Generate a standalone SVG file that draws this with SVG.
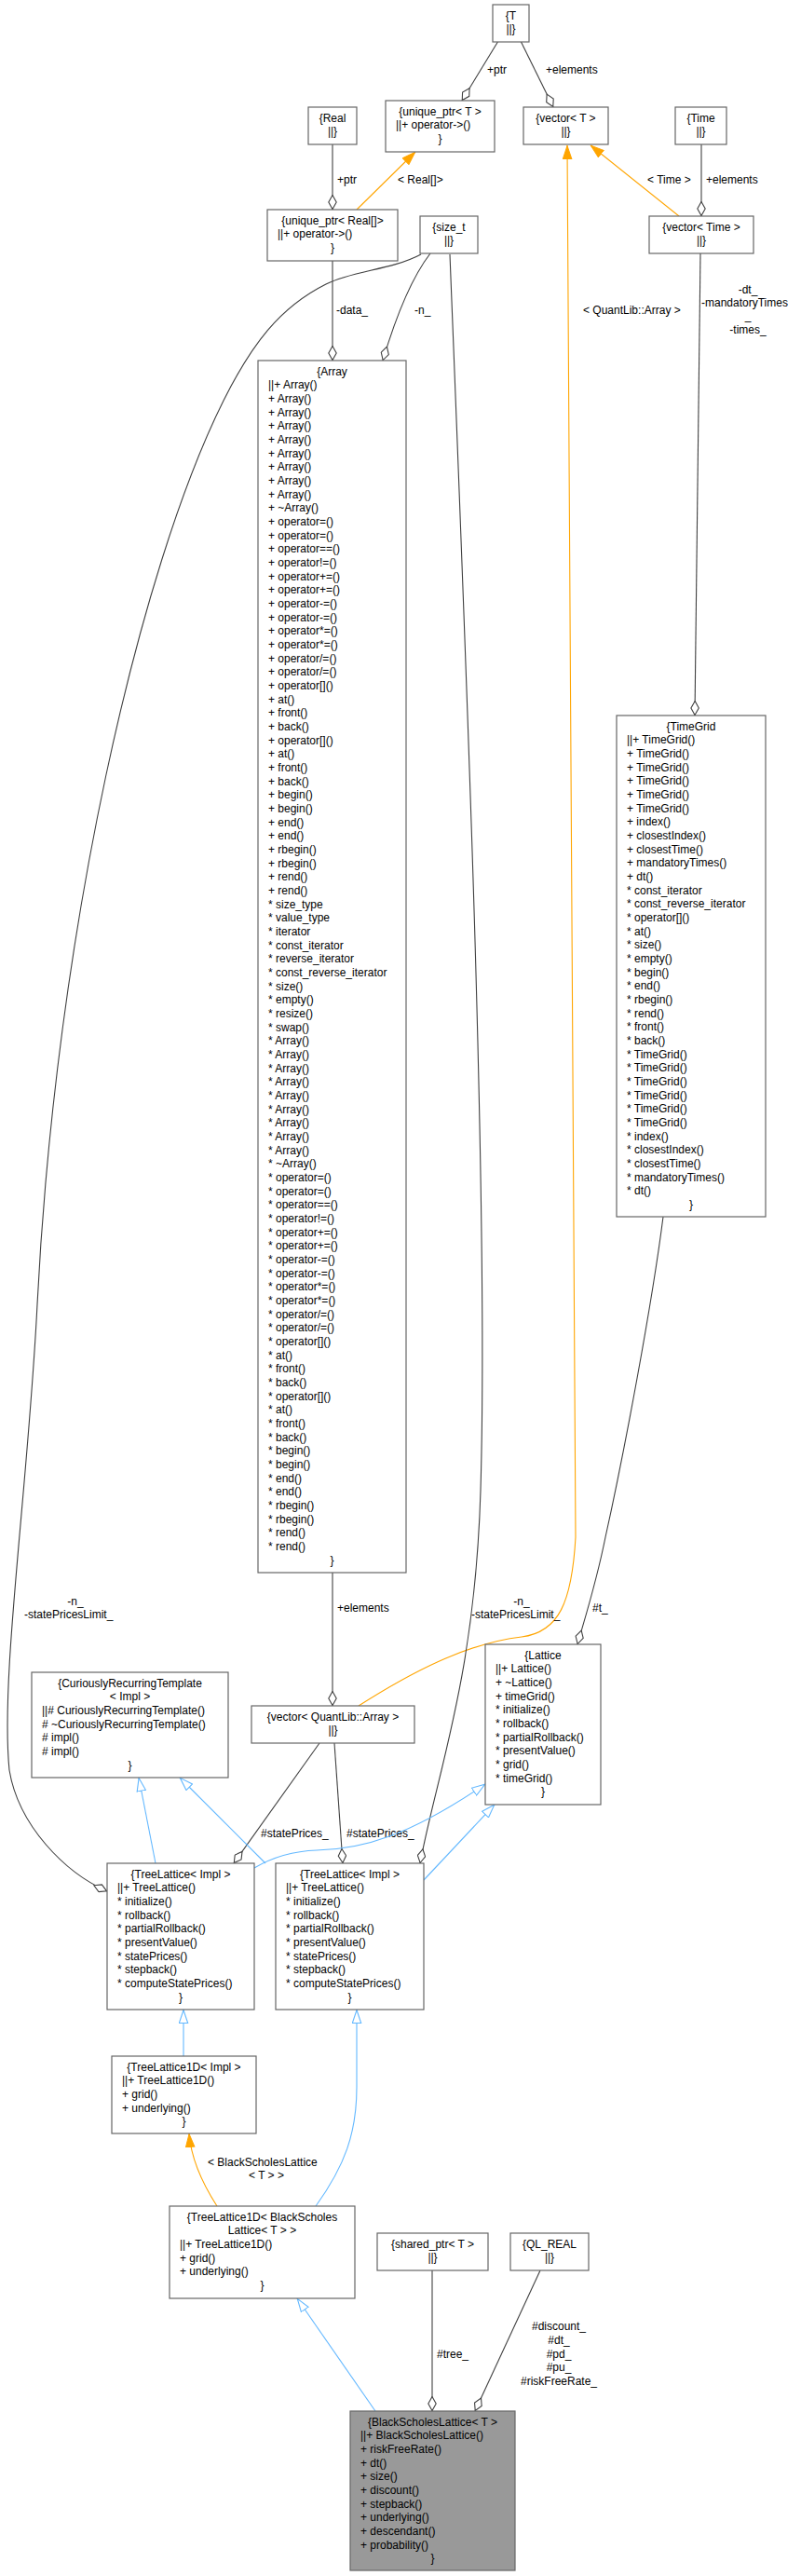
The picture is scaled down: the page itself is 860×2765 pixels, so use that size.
<svg xmlns="http://www.w3.org/2000/svg" width="860" height="2765" viewBox="0 0 860 2765">
<style>
.bg{fill:#ffffff}
.box{fill:#ffffff;stroke:#666666;stroke-width:1.2}
.hl{fill:#999999;stroke:#666666;stroke-width:1.2}
text{font-family:"Liberation Sans",Arial,sans-serif;font-size:12px;fill:#000000}
.c{text-anchor:middle}
.agg{fill:none;stroke:#404040;stroke-width:1.1;marker-end:url(#dia)}
.inh{fill:none;stroke:#63b8ff;stroke-width:1.1;marker-end:url(#tri)}
.tpl{fill:none;stroke:#ffa500;stroke-width:1.1;marker-end:url(#otri)}
</style>
<defs>
<marker id="dia" viewBox="0 0 16 10" refX="16" refY="5" markerWidth="16" markerHeight="10" orient="auto" markerUnits="userSpaceOnUse"><path d="M0.5,5 L8,0.8 L15.5,5 L8,9.2 Z" fill="#ffffff" stroke="#404040" stroke-width="1.1"/></marker>
<marker id="tri" viewBox="0 0 15 11" refX="15" refY="5.5" markerWidth="15" markerHeight="11" orient="auto" markerUnits="userSpaceOnUse"><path d="M0.5,0.8 L14.5,5.5 L0.5,10.2 Z" fill="#ffffff" stroke="#63b8ff" stroke-width="1.1"/></marker>
<marker id="otri" viewBox="0 0 15 11" refX="15" refY="5.5" markerWidth="15" markerHeight="11" orient="auto" markerUnits="userSpaceOnUse"><path d="M0.5,0.8 L14.5,5.5 L0.5,10.2 Z" fill="#ffa500" stroke="#ffa500" stroke-width="1"/></marker>
</defs>
<rect class="bg" x="0" y="0" width="860" height="2765"/>

<g id="connectors">
<path class="agg" d="M535,44 L496,108"/>
<text x="523" y="79">+ptr</text>
<path class="agg" d="M559,44 L594,115"/>
<text x="586" y="79">+elements</text>
<path class="agg" d="M357,155 L357,225"/>
<text x="362" y="197">+ptr</text>
<path class="tpl" d="M383,225 L446,163"/>
<text x="427" y="197">&lt; Real[]&gt;</text>
<path class="agg" d="M753,155 L753,232"/>
<text x="758" y="197">+elements</text>
<path class="tpl" d="M729,232 L634,156"/>
<text x="695" y="197">&lt; Time &gt;</text>
<path class="tpl" d="M385,1831 C440,1796 500,1764 560,1757 C600,1752 614,1720 618,1650 L609,156"/>
<text x="626" y="337">&lt; QuantLib::Array &gt;</text>
<path class="agg" d="M357,280 L357,387"/>
<text x="361" y="337">-data_</text>
<path class="agg" d="M462,272 C442,298 425,340 411,387"/>
<text x="445" y="337">-n_</text>
<path class="agg" d="M452,273 C420,290 380,290 350,305 C300,330 270,370 240,430 C150,610 60,1000 40,1400 C30,1600 0,1800 10,1900 C20,1960 70,2010 115,2030"/>
<text class="c" x="81" y="1723">-n_</text>
<text x="26" y="1737">-statePricesLimit_</text>
<path class="agg" d="M483,273 C500,700 525,1300 516,1600 C510,1800 470,1900 451,2000"/>
<text class="c" x="560" y="1723">-n_</text>
<text x="506" y="1737">-statePricesLimit_</text>
<path class="agg" d="M752,272 L746,768"/>
<text class="c" x="803" y="315">-dt_</text>
<text x="753" y="329">-mandatoryTimes</text>
<text class="c" x="803" y="343">_</text>
<text class="c" x="803" y="358">-times_</text>
<path class="agg" d="M712,1306 C700,1400 670,1560 650,1650 C640,1700 627,1740 620,1765"/>
<text x="636" y="1730">#t_</text>
<path class="agg" d="M357,1688 L357,1831"/>
<text x="362" y="1730">+elements</text>
<path class="agg" d="M343,1871 L251,2000"/>
<text x="280" y="1972">#statePrices_</text>
<path class="agg" d="M359,1871 L368,2000"/>
<text x="372" y="1972">#statePrices_</text>
<path class="inh" d="M167,2000 L149,1908"/>
<path class="inh" d="M285,2000 L193,1908"/>
<path class="inh" d="M273,2005 C290,1995 310,1987 340,1986 C390,1985 440,1970 521,1915"/>
<path class="inh" d="M455,2018 L531,1937"/>
<path class="inh" d="M197,2207 L197,2157"/>
<path class="inh" d="M339,2368 C370,2325 383,2290 383,2240 L383,2157"/>
<path class="tpl" d="M233,2368 C215,2340 205,2315 203,2290"/>
<text x="223" y="2325">&lt; BlackScholesLattice</text>
<text class="c" x="286" y="2339">&lt; T &gt; &gt;</text>
<path class="inh" d="M403,2588 L319,2467"/>
<path class="agg" d="M464,2437 L464,2588"/>
<text x="469" y="2531">#tree_</text>
<path class="agg" d="M580,2437 L510,2588"/>
<text class="c" x="600" y="2501">#discount_</text>
<text class="c" x="600" y="2516">#dt_</text>
<text class="c" x="600" y="2531">#pd_</text>
<text class="c" x="600" y="2545">#pu_</text>
<text class="c" x="600" y="2560">#riskFreeRate_</text>
</g>

<g id="node_T"><rect class="box" x="529" y="5" width="39" height="40"/>
<text class="c" x="548.5" y="20.5">{T<tspan x="548.5" dy="14.67">||}</tspan></text></g>

<g id="node_unique_ptr_T"><rect class="box" x="414" y="108" width="117" height="55"/>
<text x="425" y="123.5"><tspan class="c" x="472.5">{unique_ptr&lt; T &gt;</tspan><tspan x="425" dy="14.67">||+ operator-&gt;()</tspan><tspan class="c" x="472.5" dy="14.67">}</tspan></text></g>

<g id="node_Real"><rect class="box" x="331" y="115" width="52" height="40"/>
<text class="c" x="357" y="130.5">{Real<tspan x="357" dy="14.67">||}</tspan></text></g>

<g id="node_vector_T"><rect class="box" x="562" y="115" width="91" height="40"/>
<text class="c" x="607.5" y="130.5">{vector&lt; T &gt;<tspan x="607.5" dy="14.67">||}</tspan></text></g>

<g id="node_Time"><rect class="box" x="725" y="115" width="55" height="40"/>
<text class="c" x="752.5" y="130.5">{Time<tspan x="752.5" dy="14.67">||}</tspan></text></g>

<g id="node_unique_ptr_Real"><rect class="box" x="287" y="225" width="140" height="55"/>
<text x="298" y="240.5"><tspan class="c" x="357">{unique_ptr&lt; Real[]&gt;</tspan><tspan x="298" dy="14.67">||+ operator-&gt;()</tspan><tspan class="c" x="357" dy="14.67">}</tspan></text></g>

<g id="node_size_t"><rect class="box" x="451" y="232" width="62" height="40"/>
<text class="c" x="482" y="247.5">{size_t<tspan x="482" dy="14.67">||}</tspan></text></g>

<g id="node_vector_Time"><rect class="box" x="697" y="232" width="112" height="40"/>
<text class="c" x="753" y="247.5">{vector&lt; Time &gt;<tspan x="753" dy="14.67">||}</tspan></text></g>

<g id="node_Array"><rect class="box" x="277" y="387" width="159" height="1301"/>
<text x="288" y="402.5"><tspan class="c" x="356.5">{Array</tspan><tspan x="288" dy="14.67">||+ Array()</tspan><tspan x="288" dy="14.67">+ Array()</tspan><tspan x="288" dy="14.67">+ Array()</tspan><tspan x="288" dy="14.67">+ Array()</tspan><tspan x="288" dy="14.67">+ Array()</tspan><tspan x="288" dy="14.67">+ Array()</tspan><tspan x="288" dy="14.67">+ Array()</tspan><tspan x="288" dy="14.67">+ Array()</tspan><tspan x="288" dy="14.67">+ Array()</tspan><tspan x="288" dy="14.67">+ ~Array()</tspan><tspan x="288" dy="14.67">+ operator=()</tspan><tspan x="288" dy="14.67">+ operator=()</tspan><tspan x="288" dy="14.67">+ operator==()</tspan><tspan x="288" dy="14.67">+ operator!=()</tspan><tspan x="288" dy="14.67">+ operator+=()</tspan><tspan x="288" dy="14.67">+ operator+=()</tspan><tspan x="288" dy="14.67">+ operator-=()</tspan><tspan x="288" dy="14.67">+ operator-=()</tspan><tspan x="288" dy="14.67">+ operator*=()</tspan><tspan x="288" dy="14.67">+ operator*=()</tspan><tspan x="288" dy="14.67">+ operator/=()</tspan><tspan x="288" dy="14.67">+ operator/=()</tspan><tspan x="288" dy="14.67">+ operator[]()</tspan><tspan x="288" dy="14.67">+ at()</tspan><tspan x="288" dy="14.67">+ front()</tspan><tspan x="288" dy="14.67">+ back()</tspan><tspan x="288" dy="14.67">+ operator[]()</tspan><tspan x="288" dy="14.67">+ at()</tspan><tspan x="288" dy="14.67">+ front()</tspan><tspan x="288" dy="14.67">+ back()</tspan><tspan x="288" dy="14.67">+ begin()</tspan><tspan x="288" dy="14.67">+ begin()</tspan><tspan x="288" dy="14.67">+ end()</tspan><tspan x="288" dy="14.67">+ end()</tspan><tspan x="288" dy="14.67">+ rbegin()</tspan><tspan x="288" dy="14.67">+ rbegin()</tspan><tspan x="288" dy="14.67">+ rend()</tspan><tspan x="288" dy="14.67">+ rend()</tspan><tspan x="288" dy="14.67">* size_type</tspan><tspan x="288" dy="14.67">* value_type</tspan><tspan x="288" dy="14.67">* iterator</tspan><tspan x="288" dy="14.67">* const_iterator</tspan><tspan x="288" dy="14.67">* reverse_iterator</tspan><tspan x="288" dy="14.67">* const_reverse_iterator</tspan><tspan x="288" dy="14.67">* size()</tspan><tspan x="288" dy="14.67">* empty()</tspan><tspan x="288" dy="14.67">* resize()</tspan><tspan x="288" dy="14.67">* swap()</tspan><tspan x="288" dy="14.67">* Array()</tspan><tspan x="288" dy="14.67">* Array()</tspan><tspan x="288" dy="14.67">* Array()</tspan><tspan x="288" dy="14.67">* Array()</tspan><tspan x="288" dy="14.67">* Array()</tspan><tspan x="288" dy="14.67">* Array()</tspan><tspan x="288" dy="14.67">* Array()</tspan><tspan x="288" dy="14.67">* Array()</tspan><tspan x="288" dy="14.67">* Array()</tspan><tspan x="288" dy="14.67">* ~Array()</tspan><tspan x="288" dy="14.67">* operator=()</tspan><tspan x="288" dy="14.67">* operator=()</tspan><tspan x="288" dy="14.67">* operator==()</tspan><tspan x="288" dy="14.67">* operator!=()</tspan><tspan x="288" dy="14.67">* operator+=()</tspan><tspan x="288" dy="14.67">* operator+=()</tspan><tspan x="288" dy="14.67">* operator-=()</tspan><tspan x="288" dy="14.67">* operator-=()</tspan><tspan x="288" dy="14.67">* operator*=()</tspan><tspan x="288" dy="14.67">* operator*=()</tspan><tspan x="288" dy="14.67">* operator/=()</tspan><tspan x="288" dy="14.67">* operator/=()</tspan><tspan x="288" dy="14.67">* operator[]()</tspan><tspan x="288" dy="14.67">* at()</tspan><tspan x="288" dy="14.67">* front()</tspan><tspan x="288" dy="14.67">* back()</tspan><tspan x="288" dy="14.67">* operator[]()</tspan><tspan x="288" dy="14.67">* at()</tspan><tspan x="288" dy="14.67">* front()</tspan><tspan x="288" dy="14.67">* back()</tspan><tspan x="288" dy="14.67">* begin()</tspan><tspan x="288" dy="14.67">* begin()</tspan><tspan x="288" dy="14.67">* end()</tspan><tspan x="288" dy="14.67">* end()</tspan><tspan x="288" dy="14.67">* rbegin()</tspan><tspan x="288" dy="14.67">* rbegin()</tspan><tspan x="288" dy="14.67">* rend()</tspan><tspan x="288" dy="14.67">* rend()</tspan><tspan class="c" x="356.5" dy="14.67">}</tspan></text></g>

<g id="node_TimeGrid"><rect class="box" x="662" y="768" width="160" height="538"/>
<text x="673" y="783.5"><tspan class="c" x="742">{TimeGrid</tspan><tspan x="673" dy="14.67">||+ TimeGrid()</tspan><tspan x="673" dy="14.67">+ TimeGrid()</tspan><tspan x="673" dy="14.67">+ TimeGrid()</tspan><tspan x="673" dy="14.67">+ TimeGrid()</tspan><tspan x="673" dy="14.67">+ TimeGrid()</tspan><tspan x="673" dy="14.67">+ TimeGrid()</tspan><tspan x="673" dy="14.67">+ index()</tspan><tspan x="673" dy="14.67">+ closestIndex()</tspan><tspan x="673" dy="14.67">+ closestTime()</tspan><tspan x="673" dy="14.67">+ mandatoryTimes()</tspan><tspan x="673" dy="14.67">+ dt()</tspan><tspan x="673" dy="14.67">* const_iterator</tspan><tspan x="673" dy="14.67">* const_reverse_iterator</tspan><tspan x="673" dy="14.67">* operator[]()</tspan><tspan x="673" dy="14.67">* at()</tspan><tspan x="673" dy="14.67">* size()</tspan><tspan x="673" dy="14.67">* empty()</tspan><tspan x="673" dy="14.67">* begin()</tspan><tspan x="673" dy="14.67">* end()</tspan><tspan x="673" dy="14.67">* rbegin()</tspan><tspan x="673" dy="14.67">* rend()</tspan><tspan x="673" dy="14.67">* front()</tspan><tspan x="673" dy="14.67">* back()</tspan><tspan x="673" dy="14.67">* TimeGrid()</tspan><tspan x="673" dy="14.67">* TimeGrid()</tspan><tspan x="673" dy="14.67">* TimeGrid()</tspan><tspan x="673" dy="14.67">* TimeGrid()</tspan><tspan x="673" dy="14.67">* TimeGrid()</tspan><tspan x="673" dy="14.67">* TimeGrid()</tspan><tspan x="673" dy="14.67">* index()</tspan><tspan x="673" dy="14.67">* closestIndex()</tspan><tspan x="673" dy="14.67">* closestTime()</tspan><tspan x="673" dy="14.67">* mandatoryTimes()</tspan><tspan x="673" dy="14.67">* dt()</tspan><tspan class="c" x="742" dy="14.67">}</tspan></text></g>

<g id="node_CRT"><rect class="box" x="34" y="1795" width="211" height="113"/>
<text x="45" y="1810.5"><tspan class="c" x="139.5">{CuriouslyRecurringTemplate</tspan><tspan class="c" x="139.5" dy="14.67">&lt; Impl &gt;</tspan><tspan x="45" dy="14.67">||# CuriouslyRecurringTemplate()</tspan><tspan x="45" dy="14.67"># ~CuriouslyRecurringTemplate()</tspan><tspan x="45" dy="14.67"># impl()</tspan><tspan x="45" dy="14.67"># impl()</tspan><tspan class="c" x="139.5" dy="14.67">}</tspan></text></g>

<g id="node_vector_QLArray"><rect class="box" x="270" y="1831" width="175" height="40"/>
<text class="c" x="357.5" y="1846.5">{vector&lt; QuantLib::Array &gt;<tspan x="357.5" dy="14.67">||}</tspan></text></g>

<g id="node_Lattice"><rect class="box" x="521" y="1765" width="124" height="172"/>
<text x="532" y="1780.5"><tspan class="c" x="583">{Lattice</tspan><tspan x="532" dy="14.67">||+ Lattice()</tspan><tspan x="532" dy="14.67">+ ~Lattice()</tspan><tspan x="532" dy="14.67">+ timeGrid()</tspan><tspan x="532" dy="14.67">* initialize()</tspan><tspan x="532" dy="14.67">* rollback()</tspan><tspan x="532" dy="14.67">* partialRollback()</tspan><tspan x="532" dy="14.67">* presentValue()</tspan><tspan x="532" dy="14.67">* grid()</tspan><tspan x="532" dy="14.67">* timeGrid()</tspan><tspan class="c" x="583" dy="14.67">}</tspan></text></g>

<g id="node_TreeLattice_1"><rect class="box" x="115" y="2000" width="158" height="157"/>
<text x="126" y="2015.5"><tspan class="c" x="194">{TreeLattice&lt; Impl &gt;</tspan><tspan x="126" dy="14.67">||+ TreeLattice()</tspan><tspan x="126" dy="14.67">* initialize()</tspan><tspan x="126" dy="14.67">* rollback()</tspan><tspan x="126" dy="14.67">* partialRollback()</tspan><tspan x="126" dy="14.67">* presentValue()</tspan><tspan x="126" dy="14.67">* statePrices()</tspan><tspan x="126" dy="14.67">* stepback()</tspan><tspan x="126" dy="14.67">* computeStatePrices()</tspan><tspan class="c" x="194" dy="14.67">}</tspan></text></g>

<g id="node_TreeLattice_2"><rect class="box" x="296" y="2000" width="159" height="157"/>
<text x="307" y="2015.5"><tspan class="c" x="375.5">{TreeLattice&lt; Impl &gt;</tspan><tspan x="307" dy="14.67">||+ TreeLattice()</tspan><tspan x="307" dy="14.67">* initialize()</tspan><tspan x="307" dy="14.67">* rollback()</tspan><tspan x="307" dy="14.67">* partialRollback()</tspan><tspan x="307" dy="14.67">* presentValue()</tspan><tspan x="307" dy="14.67">* statePrices()</tspan><tspan x="307" dy="14.67">* stepback()</tspan><tspan x="307" dy="14.67">* computeStatePrices()</tspan><tspan class="c" x="375.5" dy="14.67">}</tspan></text></g>

<g id="node_TreeLattice1D"><rect class="box" x="120" y="2207" width="155" height="83"/>
<text x="131" y="2222.5"><tspan class="c" x="197.5">{TreeLattice1D&lt; Impl &gt;</tspan><tspan x="131" dy="14.67">||+ TreeLattice1D()</tspan><tspan x="131" dy="14.67">+ grid()</tspan><tspan x="131" dy="14.67">+ underlying()</tspan><tspan class="c" x="197.5" dy="14.67">}</tspan></text></g>

<g id="node_TreeLattice1D_BS"><rect class="box" x="182" y="2368" width="199" height="99"/>
<text x="193" y="2383.5"><tspan class="c" x="281.5">{TreeLattice1D&lt; BlackScholes</tspan><tspan class="c" x="281.5" dy="14.67">Lattice&lt; T &gt; &gt;</tspan><tspan x="193" dy="14.67">||+ TreeLattice1D()</tspan><tspan x="193" dy="14.67">+ grid()</tspan><tspan x="193" dy="14.67">+ underlying()</tspan><tspan class="c" x="281.5" dy="14.67">}</tspan></text></g>

<g id="node_shared_ptr"><rect class="box" x="405" y="2397" width="119" height="40"/>
<text class="c" x="464.5" y="2412.5">{shared_ptr&lt; T &gt;<tspan x="464.5" dy="14.67">||}</tspan></text></g>

<g id="node_QL_REAL"><rect class="box" x="548" y="2397" width="84" height="40"/>
<text class="c" x="590" y="2412.5">{QL_REAL<tspan x="590" dy="14.67">||}</tspan></text></g>

<g id="node_BlackScholesLattice"><rect class="hl" x="376" y="2588" width="177" height="171"/>
<text x="387" y="2603.5"><tspan class="c" x="464.5">{BlackScholesLattice&lt; T &gt;</tspan><tspan x="387" dy="14.67">||+ BlackScholesLattice()</tspan><tspan x="387" dy="14.67">+ riskFreeRate()</tspan><tspan x="387" dy="14.67">+ dt()</tspan><tspan x="387" dy="14.67">+ size()</tspan><tspan x="387" dy="14.67">+ discount()</tspan><tspan x="387" dy="14.67">+ stepback()</tspan><tspan x="387" dy="14.67">+ underlying()</tspan><tspan x="387" dy="14.67">+ descendant()</tspan><tspan x="387" dy="14.67">+ probability()</tspan><tspan class="c" x="464.5" dy="14.67">}</tspan></text></g>
</svg>
